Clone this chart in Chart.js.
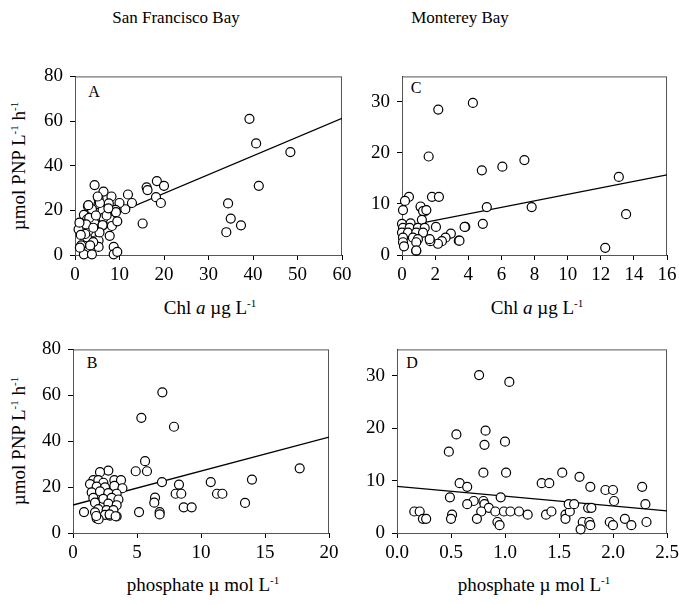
<!DOCTYPE html>
<html>
<head>
<meta charset="utf-8">
<script src="https://cdn.jsdelivr.net/npm/chart.js@4.4.0/dist/chart.umd.min.js"></script>
<style>
  body { margin:0; background:#fff; width:679px; height:604px; position:relative; overflow:hidden;
         font-family:"Liberation Serif","Times New Roman",serif; color:#000; }
  canvas { position:absolute; }
  .t { position:absolute; white-space:nowrap; transform:translate(-50%,-50%); line-height:1; }
  .head { font-size:17px; }
  .ax { font-size:19px; }
  .ax sup { font-size:11px; vertical-align:0.55em; }
  .rot { transform:translate(-50%,-50%) rotate(-90deg); }
  .let { font-size:16px; }
</style>
</head>
<body>

<div class="t head" style="left:176px;top:17px">San Francisco Bay</div>
<div class="t head" style="left:460px;top:17px">Monterey Bay</div>

<div class="t ax rot" style="left:18px;top:166px">&micro;mol PNP L<sup>-1</sup> h<sup>-1</sup></div>
<div class="t ax rot" style="left:18px;top:441px">&micro;mol PNP L<sup>-1</sup> h<sup>-1</sup></div>

<div class="t ax" style="left:210px;top:307px">Chl <i>a</i> &micro;g L<sup>-1</sup></div>
<div class="t ax" style="left:537px;top:307px">Chl <i>a</i> &micro;g L<sup>-1</sup></div>
<div class="t ax" style="left:203px;top:584px">phosphate &micro; mol L<sup>-1</sup></div>
<div class="t ax" style="left:534px;top:584px">phosphate &micro; mol L<sup>-1</sup></div>

<div class="t let" style="left:94px;top:92px">A</div>
<div class="t let" style="left:416px;top:88px">C</div>
<div class="t let" style="left:92px;top:363px">B</div>
<div class="t let" style="left:412px;top:363px">D</div>

<canvas id="cA"></canvas>
<canvas id="cB"></canvas>
<canvas id="cC"></canvas>
<canvas id="cD"></canvas>

<script>
// A: San Francisco Bay, Chl a vs activity
const sfChl = [39.2,40.7,48.4,41.3,34.4,35.0,37.3,34.0,
  18.4,20.0,16.1,16.3,18.2,19.3,15.2,11.9,12.8,11.3,10.0,
  4.4,6.4,5.3,8.2,7.6,2.9,5.3,3.8,9.1,2.0,4.8,6.8,2.7,7.9,1.4,4.4,6.1,8.3,2.3,3.8,7.8,2.7,5.3,1.4,5.3,8.7,
  2.0,3.8,8.7,9.5,9.2,9.5,6.2,3.0,3.2,6.4,7.1,3.0,2.5,6.2,5.5,4.1,2.3,4.1,3.4,1.1,5.6,7.5,4.7,5.1,
  0.8,1.0,1.3];
const sfChlRate = [61.0,50.0,46.1,31.0,23.1,16.3,13.3,10.2,
  33.1,31.0,30.3,29.1,25.9,23.3,14.1,27.1,23.3,20.5,23.3,
  31.3,28.4,25.2,26.2,23.1,21.9,22.8,20.5,20.2,18.0,17.3,17.3,15.9,16.0,14.1,14.1,13.0,13.0,11.5,10.1,8.6,7.9,6.5,4.3,3.6,3.6,
  0.3,0.3,0.3,1.4,19.2,15.1,20.0,22.3,16.6,16.6,17.7,10.8,13.7,13.4,10.1,12.2,9.4,5.8,4.3,3.3,23.3,20.9,17.7,26.2,
  11.5,14.5,9.0];
const sfChlFit = [{x:0, y:10.8}, {x:60, y:61.2}];

// C: Monterey Bay, Chl a vs activity
const mbChl = [4.28,2.19,1.61,7.39,6.06,4.82,13.09,0.42,0.18,1.81,2.23,5.12,7.83,13.53,0.06,1.14,1.35,1.43,
  4.88,3.82,2.05,2.95,2.63,2.41,2.17,3.43,12.27,1.71,0.86,
  1.12,1.27,1.47,1.2,0.0,0.52,0.06,0.46,0.96,1.37,0.0,0.36,0.86,1.27,0.06,0.66,0.96,1.67,0.06,0.86,0.12,0.86,3.47,3.78];
const mbChlRate = [29.8,28.5,19.3,18.6,17.3,16.6,15.3,11.4,10.6,11.4,11.4,9.4,9.4,8.0,8.8,9.4,8.5,8.8,
  6.1,5.5,5.5,4.2,3.4,2.7,2.2,2.8,1.4,2.7,0.8,
  9.5,8.6,8.8,6.9,6.1,6.2,5.3,5.3,5.3,5.3,4.4,4.4,4.4,4.4,3.4,3.4,3.1,3.1,2.5,2.5,1.7,0.9,2.8,5.5];
const mbChlFit = [{x:0, y:5.5}, {x:16, y:15.7}];

// B: San Francisco Bay, phosphate vs activity
const sfPhos = [6.98,5.34,7.89,5.63,4.90,5.78,17.71,13.98,10.76,6.95,8.28,8.02,8.46,11.25,11.67,6.41,6.35,13.44,8.65,9.27,5.16,6.77,6.77,0.86,
  2.76,2.11,1.59,1.98,2.37,3.23,3.75,1.33,1.85,2.5,3.23,3.86,1.46,2.11,2.76,3.41,1.59,2.37,3.02,3.55,1.72,2.76,3.41,1.98,2.63,3.16,1.72,2.5,2.89,1.85,3.41,
  2.0,1.82,2.86,3.33];
const sfPhosRate = [61.3,50.2,46.3,31.3,26.9,26.9,28.2,23.3,22.2,22.2,21.1,17.1,17.1,17.1,17.1,15.4,13.2,13.1,11.2,11.2,9.1,9.1,8.1,9.1,
  27.2,26.5,23.0,23.0,21.9,23.0,23.0,21.3,20.2,19.9,20.5,19.5,17.7,18.1,17.4,17.1,15.3,14.9,15.3,14.6,13.2,12.8,12.1,10.4,10.0,10.0,9.0,7.9,7.6,6.4,7.2,
  6.0,7.4,8.1,7.3];
const sfPhosFit = [{x:0, y:12.2}, {x:20, y:41.8}];

// D: Monterey Bay, phosphate vs activity
const mbPhos = [0.76,1.04,0.55,0.82,0.81,1.00,0.48,0.80,1.01,1.53,1.34,1.41,1.69,1.79,2.27,1.93,2.00,2.01,
  0.58,0.65,0.49,0.96,0.71,0.80,0.65,0.81,0.85,0.78,0.91,0.99,1.05,1.13,1.21,0.16,0.21,0.24,0.27,0.51,0.50,0.74,0.93,0.95,
  1.38,1.43,1.56,1.56,1.60,1.59,1.64,1.77,1.80,1.72,1.78,1.79,1.70,1.97,2.00,2.11,2.17,2.30,2.31];
const mbPhosRate = [30.1,28.8,18.8,19.5,16.8,17.4,15.5,11.5,11.5,11.5,9.5,9.5,10.7,8.8,8.8,8.2,8.2,6.1,
  9.5,8.8,6.8,6.8,6.1,6.1,5.5,5.5,4.8,4.1,4.1,4.1,4.1,4.1,3.5,4.1,4.1,2.7,2.7,3.5,2.7,2.7,2.1,1.5,
  3.5,4.1,3.5,2.7,4.1,5.5,5.5,4.8,4.8,2.1,2.1,1.5,0.7,2.1,1.5,2.7,1.5,5.5,2.1];
const mbPhosFit = [{x:0, y:8.9}, {x:2.5, y:4.2}];

const tickFont = { family: 'Liberation Serif', size: 19 };

const frame = {
  id: 'frame',
  beforeDatasetsDraw(chart) {
    const a = chart.chartArea, c = chart.ctx;
    c.save();
    c.strokeStyle = '#555';
    c.lineWidth = 1;
    c.strokeRect(a.left + 0.5, a.top + 0.5, a.right - a.left - 1, a.bottom - a.top);
    c.restore();
  }
};

function pts(xs, ys) { return xs.map((x, i) => ({ x: x, y: ys[i] })); }

function panel(id, box, xs, ys, fit, xr, yr) {
  const padL = 50, padT = 12, padR = 16, padB = 40;
  const cv = document.getElementById(id);
  cv.width = box.r - box.l + padL + padR;
  cv.height = box.b - box.t + padT + padB;
  cv.style.left = (box.l - padL) + 'px';
  cv.style.top = (box.t - padT) + 'px';
  new Chart(cv.getContext('2d'), {
    type: 'scatter',
    data: {
      datasets: [
        { type: 'line', data: fit, borderColor: '#000', borderWidth: 1.3, pointRadius: 0, order: 2 },
        { data: pts(xs, ys), pointRadius: 4.5, pointBorderWidth: 1.2, pointBackgroundColor: '#fff',
          pointBorderColor: '#000', clip: false, order: 1 }
      ]
    },
    options: {
      responsive: false,
      animation: false,
      events: [],
      layout: { padding: { left: 0, top: padT, right: padR, bottom: 0 } },
      plugins: { legend: { display: false }, tooltip: { enabled: false } },
      scales: {
        x: {
          type: 'linear', min: xr[0], max: xr[1],
          ticks: { stepSize: xr[2], font: tickFont, color: '#000', padding: 4, maxRotation: 0,
                   callback: v => xr[3] ? v.toFixed(xr[3]) : v },
          grid: { drawOnChartArea: false, tickLength: 5, color: '#000' },
          border: { color: '#000', width: 1 },
          afterFit: s => { s.height = padB; }
        },
        y: {
          type: 'linear', min: yr[0], max: yr[1],
          ticks: { stepSize: yr[2], font: tickFont, color: '#000', padding: 7, includeBounds: false },
          grid: { drawOnChartArea: false, tickLength: 5, color: '#000' },
          border: { color: '#000', width: 1 },
          afterFit: s => { s.width = padL; }
        }
      }
    },
    plugins: [frame]
  });
}

panel('cA', { l: 75, t: 70, r: 342, b: 255 }, sfChl, sfChlRate, sfChlFit, [0, 60, 10], [0, 80, 20]);
panel('cC', { l: 402, t: 70, r: 667, b: 255 }, mbChl, mbChlRate, mbChlFit, [0, 16, 2], [0, 35, 10]);
panel('cB', { l: 73, t: 343, r: 329, b: 533 }, sfPhos, sfPhosRate, sfPhosFit, [0, 20, 5], [0, 80, 20]);
panel('cD', { l: 397, t: 343, r: 667, b: 533 }, mbPhos, mbPhosRate, mbPhosFit, [0, 2.5, 0.5, 1], [0, 35, 10]);
</script>
</body>
</html>
